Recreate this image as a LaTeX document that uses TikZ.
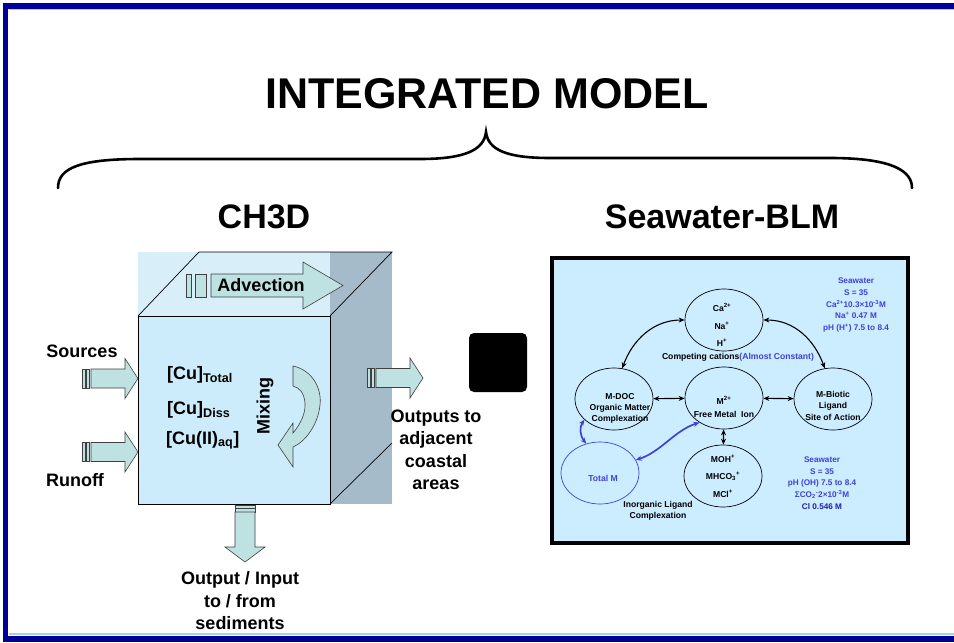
\documentclass[tikz,border=0pt]{standalone}
\usepackage{fontspec}
\setmainfont{Liberation Sans}
\usetikzlibrary{shapes.geometric, arrows.meta}
\definecolor{frameNavy}{RGB}{0,0,153}
\definecolor{frameLight}{RGB}{165,208,240}
\definecolor{cubeFront}{RGB}{204,236,252}
\definecolor{cubeTop}{RGB}{216,239,250}
\definecolor{cubeSide}{RGB}{166,187,201}
\definecolor{arrowTeal}{RGB}{190,225,226}
\definecolor{panelBlue}{RGB}{204,236,255}
\definecolor{ionBlue}{RGB}{64,64,216}
\definecolor{clBlue}{RGB}{30,30,170}

\begin{document}
\begin{tikzpicture}[x=1pt, y=1pt,
    heading/.style={font=\fontsize{34}{38}\selectfont\bfseries, inner sep=0, anchor=base},
    big/.style={font=\fontsize{18}{22.5}\selectfont\bfseries, align=center, inner sep=0},
    ptxt/.style={font=\fontsize{8.6}{11}\selectfont\bfseries, align=center, inner sep=0},
    wide/.style={font=\fontsize{8.6}{17.5}\selectfont\bfseries},
    swtxt/.style={ptxt, text=ionBlue, font=\fontsize{8.2}{11.6}\selectfont\bfseries},
    blob/.style={ellipse, draw, line width=0.7, minimum width=78, minimum height=62, inner sep=0},
    flow/.style={fill=arrowTeal, draw=black!75, line width=0.6},
    link/.style={{Stealth[length=6pt,width=5pt]}-{Stealth[length=6pt,width=5pt]}, line width=1.1},
    bluelink/.style={link, draw=ionBlue, line width=1.7}]
  \useasboundingbox (0,0) rectangle (954,-643);
  \clip (0,0) rectangle (954,-643);
  \fill[white] (0,0) rectangle (954,-643);
  \draw[frameNavy, line width=5.5] (5.5,-6) rectangle (975,-639);
  \draw[frameLight, line width=1.2] (9,-9.8) -- (954,-9.8);
  \draw[frameLight, line width=1.2] (9,-634) -- (954,-634);

  \node[font=\fontsize{43}{48}\selectfont\bfseries, inner sep=0, anchor=base] (title) at (487,-108) {INTEGRATED MODEL};
  \draw[line width=2.6, line cap=round] (58,-188) .. controls (58,-168) and (80,-159) .. (140,-159)
    -- (420,-159) .. controls (465,-159) and (484,-150) .. (486,-132)
    .. controls (488,-150) and (507,-158) .. (550,-158) -- (830,-158)
    .. controls (895,-158) and (912,-172) .. (912,-188);
  \node[heading] (ch3d) at (264,-228) {CH3D};
  \node[heading] (blmtitle) at (722,-228) {Seawater-BLM};

  % cube
  \fill[cubeTop] (138,-252) rectangle (330,-316);
  \fill[cubeSide] (330,-252) rectangle (392,-504);
  \filldraw[fill=cubeFront, draw=black, line width=0.7] (138,-316) rectangle (330,-504);
  \draw[line width=0.7] (138,-316) -- (199,-252) -- (392,-252) -- (330,-316);
  \draw[line width=0.7] (330,-504) -- (392,-443);

  \draw[flow] (186,-274) rectangle (191,-297);
  \draw[flow] (195,-274) rectangle (206,-297);
  \draw[flow] (211,-274) -- (303,-274) -- (303,-262) -- (343,-285.5) -- (303,-309) -- (303,-297) -- (211,-297) -- cycle;
  \node[big] (advection) at (261,-285.5) {Advection};

  \foreach \tx/\cy in {138/378.5, 138/452, 423/378} {
    \draw[flow] ({\tx-56},{9.5-\cy}) rectangle ({\tx-53},{-9.5-\cy});
    \draw[flow] ({\tx-52},{9.5-\cy}) rectangle ({\tx-49},{-9.5-\cy});
    \draw[flow] ({\tx-47},{9.5-\cy}) -- ({\tx-13},{9.5-\cy}) -- ({\tx-13},{20-\cy}) -- ({\tx},{-\cy})
      -- ({\tx-13},{-20-\cy}) -- ({\tx-13},{-9.5-\cy}) -- ({\tx-47},{-9.5-\cy}) -- cycle;
  }
  \draw[flow] (235,-505) rectangle (255,-508.5);
  \draw[flow] (235,-508.5) rectangle (255,-512);
  \draw[flow] (235,-512) -- (255,-512) -- (255,-547) -- (265,-547) -- (245,-562) -- (225,-547) -- (235,-547) -- cycle;

  \draw[flow] (293,-366) .. controls (312,-370) and (322,-388) .. (320,-405)
    .. controls (318,-425) and (305,-442) .. (293,-447) -- (293,-467) -- (278,-445) -- (293,-423) -- (293,-433)
    .. controls (300,-425) and (306,-413) .. (305,-403) .. controls (304,-393) and (300,-388) .. (293,-386) -- cycle;

  \node[big, anchor=base west] (cutotal) at (167,-379) {[Cu]\textsubscript{Total}};
  \node[big, anchor=base west] (cudiss) at (167,-414) {[Cu]\textsubscript{Diss}};
  \node[big, anchor=base west] (cuaq) at (166,-444) {[Cu(II)\textsubscript{aq}]};
  \node[big, rotate=90] (mixing) at (265,-406) {Mixing};

  \node[big] (sources) at (82,-351) {Sources};
  \node[big] (runoff) at (75,-480) {Runoff};
  \node[big] (outputs) at (436,-450) {Outputs to\\adjacent\\coastal\\areas};
  \node[big] (sediments) at (240,-601) {Output / Input\\to / from\\sediments};

  \node[fill, rounded corners=5, minimum width=58, minimum height=59, inner sep=0] (join) at (498,-362.5) {};

  % BLM panel
  \draw[line width=3.5, fill=panelBlue] (552,-258) rectangle (908,-543);
  \node[blob] (cations) at (724,-320) {};
  \node[blob] (mdoc) at (614,-399) {};
  \node[blob] (mfree) at (724,-398) {};
  \node[blob] (mbiotic) at (833,-399) {};
  \node[blob] (inorg) at (723,-476) {};
  \node[blob, draw=ionBlue] (totalm) at (600,-473) {};

  \node[ptxt, wide] (cationstxt) at (722,-325) {Ca\textsuperscript{2+}\\Na\textsuperscript{+}\\H\textsuperscript{+}};
  \node[ptxt] (competing) at (738,-357) {Competing cations\textcolor{ionBlue}{(Almost Constant)}};
  \node[ptxt] (mdoctxt) at (620,-408) {M-DOC\\Organic Matter\\Complexation};
  \node[ptxt] (mfreetxt) at (724,-407) {M\textsuperscript{2+}\\[2pt]Free Metal~ Ion};
  \node[ptxt] (mbiotictxt) at (833,-406) {M-Biotic\\Ligand\\[1pt]Site of Action};
  \node[ptxt, wide] (inorgtxt) at (723,-476) {MOH\textsuperscript{+}\\MHCO\textsubscript{3}\textsuperscript{+}\\MCl\textsuperscript{+}};
  \node[ptxt, text=ionBlue] (totalmtxt) at (603,-478) {Total M};
  \node[ptxt] (inorglbl) at (658,-510.5) {Inorganic Ligand\\Complexation};
  \node[swtxt] (seatop) at (856,-305) {Seawater\\S = 35\\Ca\textsuperscript{2+}10.3×10\textsuperscript{-3}M\\Na\textsuperscript{+} 0.47 M\\pH (H\textsuperscript{+}) 7.5 to 8.4};
  \node[swtxt] (seabot) at (822,-483) {Seawater\\S = 35\\pH (OH) 7.5 to 8.4\\ΣCO\textsubscript{2}\textsuperscript{-}2×10\textsuperscript{-3}M\\\textcolor{clBlue}{Cl 0.546 M}};

  \draw[link] (mdoc) -- (mfree);
  \draw[link] (mfree) -- (mbiotic);
  \draw[link] (mfree) -- (inorg);
  \draw[link] (cations.west) to[out=180, in=70] (mdoc.75);
  \draw[link] (cations.east) to[out=0, in=110] (mbiotic.105);
  \draw[bluelink] (mdoc.215) to[out=235, in=130] (totalm.115);
  \draw[bluelink] (totalm.20) .. controls +(25,8) and +(-25,-8) .. (mfree.225);
\end{tikzpicture}
\end{document}
